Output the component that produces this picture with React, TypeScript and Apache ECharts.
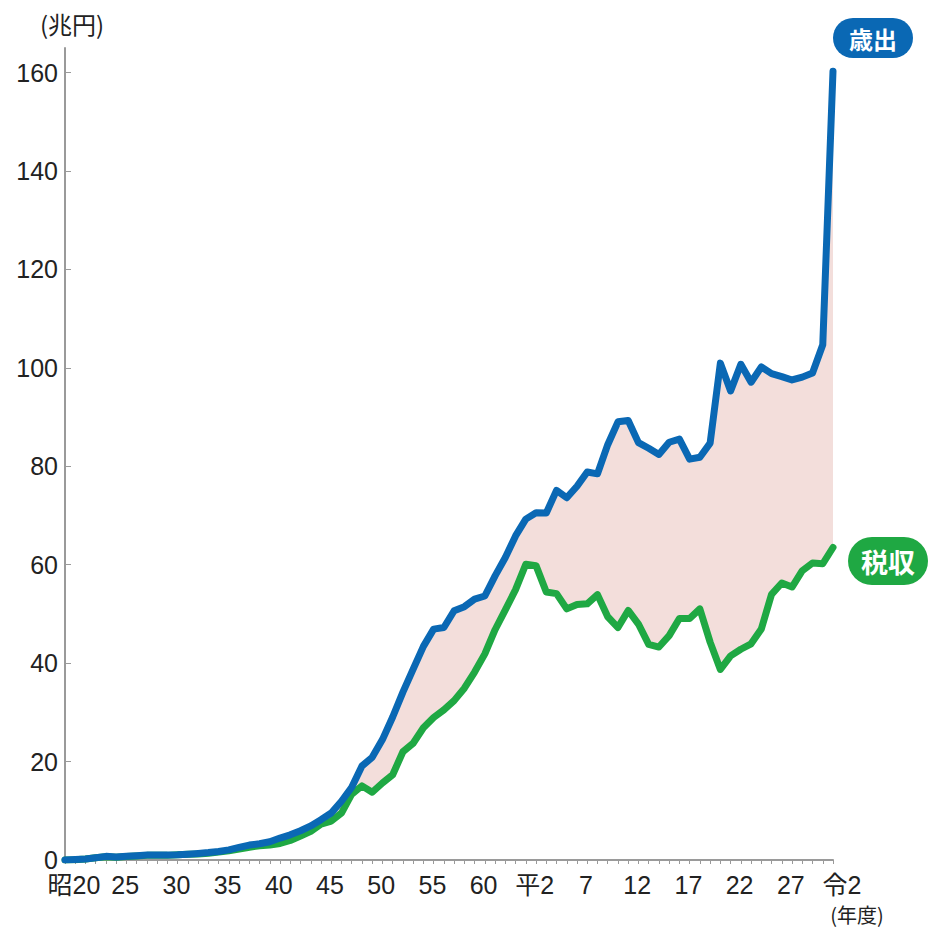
import React, { useEffect, useRef } from "react";
import * as echarts from "echarts";

// Fiscal years 昭和20 (1945) – 令和2 (2020)
const years = [
  1945, 1946, 1947, 1948, 1949, 1950, 1951, 1952, 1953, 1954,
  1955, 1956, 1957, 1958, 1959, 1960, 1961, 1962, 1963, 1964,
  1965, 1966, 1967, 1968, 1969, 1970, 1971, 1972, 1973, 1974,
  1975, 1976, 1977, 1978, 1979, 1980, 1981, 1982, 1983, 1984,
  1985, 1986, 1987, 1988, 1989, 1990, 1991, 1992, 1993, 1994,
  1995, 1996, 1997, 1998, 1999, 2000, 2001, 2002, 2003, 2004,
  2005, 2006, 2007, 2008, 2009, 2010, 2011, 2012, 2013, 2014,
  2015, 2016, 2017, 2018, 2019, 2020,
];

// Labels shown every five fiscal years (Japanese era notation)
const tickLabels = [
  "昭20", "25", "30", "35", "40", "45", "50", "55", "60",
  "平2", "7", "12", "17", "22", "27", "令2",
];

// General account expenditure, trillion yen
const expenditure = [
  0.02, 0.12, 0.21, 0.46, 0.74, 0.63, 0.75, 0.87, 1.02, 1.0,
  1.02, 1.07, 1.19, 1.33, 1.51, 1.74, 2.06, 2.56, 3.04, 3.31,
  3.72, 4.46, 5.11, 5.94, 6.92, 8.19, 9.56, 11.93, 14.78, 19.1,
  20.86, 24.47, 29.06, 34.1, 38.79, 43.41, 46.92, 47.25, 50.64, 51.48,
  53.0, 53.64, 57.73, 61.47, 65.86, 69.27, 70.55, 70.5, 75.1, 73.61,
  75.94, 78.85, 78.47, 84.39, 89.04, 89.32, 84.81, 83.67, 82.42, 84.89,
  85.52, 81.45, 81.85, 84.7, 100.97, 95.31, 100.72, 97.09, 100.19, 98.83,
  98.23, 97.54, 98.12, 98.97, 104.7, 160.3,
];

// Tax revenue, trillion yen
const taxRevenue = [
  0.01, 0.04, 0.19, 0.45, 0.64, 0.57, 0.72, 0.82, 0.94, 0.95,
  0.94, 1.05, 1.15, 1.2, 1.37, 1.6, 1.85, 2.2, 2.6, 2.9,
  3.05, 3.35, 3.97, 4.85, 5.81, 7.28, 7.9, 9.54, 13.37, 15.06,
  13.76, 15.65, 17.33, 21.99, 23.73, 26.87, 28.95, 30.51, 32.38, 34.91,
  38.2, 41.88, 46.79, 50.83, 54.93, 60.11, 59.82, 54.45, 54.13, 51.03,
  51.93, 52.06, 53.93, 49.43, 47.23, 50.71, 47.95, 43.83, 43.28, 45.59,
  49.07, 49.07, 51.02, 44.27, 38.73, 41.49, 42.83, 43.93, 46.95, 53.99,
  56.29, 55.47, 58.79, 60.36, 60.2, 63.5,
];

const yTicks = [0, 20, 40, 60, 80, 100, 120, 140, 160];

const BLUE = "#0a68b4";
const GREEN = "#1fa843";
const GAP_FILL = "#f3dedb";
const RED = "#e2231e";
const TEXT = "#222222";
const AXIS = "#9a9a9a";
const FONT = "'Liberation Sans', 'Noto Sans CJK JP', sans-serif";
const JP_FONT = "'Noto Sans CJK JP', sans-serif";

// Shortfall band stacked on top of tax revenue
const gap = expenditure.map((v, i) => Math.max(0, v - taxRevenue[i]));

export default function App() {
  const ref = useRef<HTMLDivElement>(null);

  useEffect(() => {
    if (!ref.current) return;
    const chart = echarts.init(ref.current, null, { renderer: "svg" });

    const pill = (
      x: number,
      y: number,
      w: number,
      h: number,
      color: string,
      text: string,
      fontSize: number
    ) => ({
      type: "group",
      children: [
        {
          type: "rect",
          shape: { x, y, width: w, height: h, r: h / 2 },
          style: { fill: color },
        },
        {
          type: "text",
          x: x + w / 2,
          y: y + h / 2,
          style: {
            text,
            fill: "#ffffff",
            font: `bold ${fontSize}px ${JP_FONT}`,
            align: "center",
            verticalAlign: "middle",
          },
        },
      ],
    });

    chart.setOption({
      animation: false,
      backgroundColor: "#ffffff",
      grid: { left: 65, right: 97, top: 48, bottom: 69 },
      xAxis: {
        type: "category",
        data: years.map(String),
        boundaryGap: false,
        axisLine: { lineStyle: { color: AXIS, width: 2 } },
        axisTick: {
          interval: 0,
          length: 4,
          lineStyle: { color: AXIS, width: 1 },
        },
        axisLabel: {
          interval: 4,
          margin: 12,
          color: TEXT,
          fontSize: 25,
          fontFamily: FONT,
          padding: [0, 0, 0, 18],
          formatter: (_v: string, i: number) => tickLabels[Math.round(i / 5)] ?? "",
        },
        splitLine: { show: false },
      },
      yAxis: {
        type: "value",
        min: 0,
        max: 165,
        axisLine: { show: true, lineStyle: { color: AXIS, width: 2 } },
        axisTick: {
          show: true,
          inside: true,
          length: 6,
          customValues: yTicks,
          lineStyle: { color: AXIS, width: 1 },
        },
        axisLabel: {
          customValues: yTicks,
          margin: 7,
          color: TEXT,
          fontSize: 25,
          fontFamily: FONT,
          padding: [0, 0, 6, 0],
        },
        splitLine: { show: false },
      },
      series: [
        {
          name: "base",
          type: "line",
          stack: "gap",
          data: taxRevenue,
          symbol: "none",
          lineStyle: { width: 0, opacity: 0 },
          silent: true,
        },
        {
          name: "借金で穴埋め",
          type: "line",
          stack: "gap",
          data: gap,
          symbol: "none",
          lineStyle: { width: 0, opacity: 0 },
          areaStyle: { color: GAP_FILL, opacity: 1 },
          silent: true,
        },
        {
          name: "税収",
          type: "line",
          data: taxRevenue,
          symbol: "none",
          lineStyle: { color: GREEN, width: 7, cap: "round", join: "round" },
        },
        {
          name: "歳出",
          type: "line",
          data: expenditure,
          symbol: "none",
          lineStyle: { color: BLUE, width: 7, cap: "round", join: "round" },
        },
      ],
      graphic: [
        {
          type: "text",
          x: 72,
          y: 23,
          style: {
            text: "(兆円)",
            fill: TEXT,
            font: `24px ${JP_FONT}`,
            align: "center",
            verticalAlign: "middle",
          },
        },
        {
          type: "text",
          x: 857,
          y: 914,
          style: {
            text: "(年度)",
            fill: TEXT,
            font: `20px ${JP_FONT}`,
            align: "center",
            verticalAlign: "middle",
          },
        },
        {
          type: "text",
          x: 730,
          y: 510,
          style: {
            text: "借金で穴埋め",
            fill: RED,
            font: `bold 27px ${JP_FONT}`,
            align: "center",
            verticalAlign: "middle",
          },
        },
        pill(833, 18, 80, 40, BLUE, "歳出", 24),
        pill(848, 537, 80, 48, GREEN, "税収", 27),
      ],
    });

    return () => chart.dispose();
  }, []);

  return (
    <div
      ref={ref}
      style={{ position: "fixed", left: 0, top: 0, width: 930, height: 929 }}
    />
  );
}
